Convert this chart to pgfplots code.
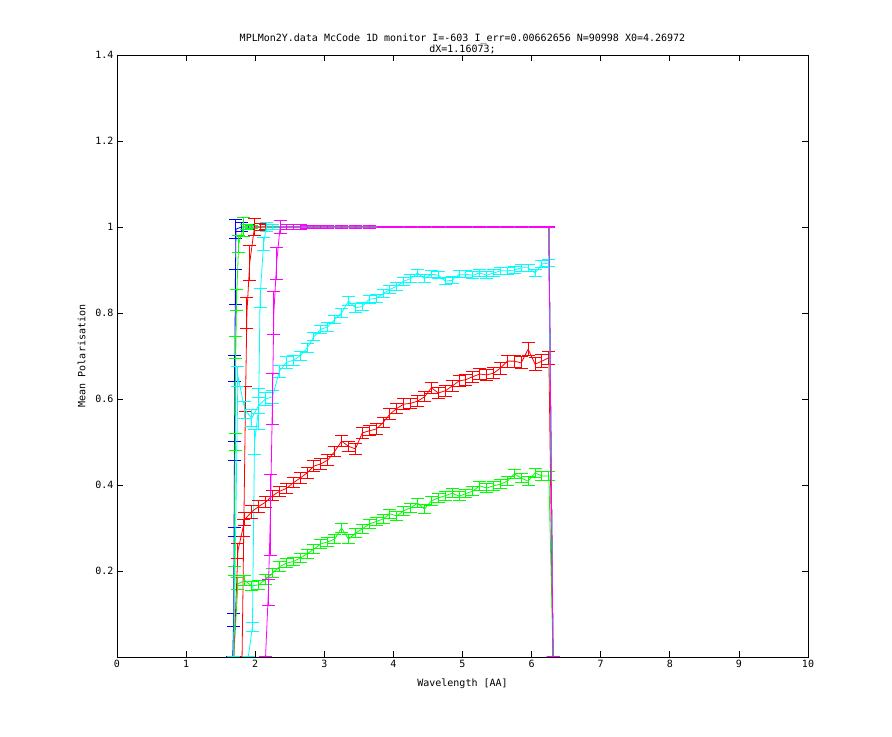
\documentclass[border=0pt]{standalone}
\usepackage{pgfplots}
\pgfplotsset{compat=1.18}
\usepackage{pgfplotstable}
\usepackage{fontspec}
\setmainfont{DejaVu Sans Mono}
\definecolor{gred}{RGB}{255,0,0}
\definecolor{ggreen}{RGB}{0,255,0}
\definecolor{gblue}{RGB}{0,0,255}
\definecolor{gmag}{RGB}{255,0,255}
\definecolor{gcyan}{RGB}{0,255,255}

% steep series
\pgfplotstableread{
x y e
1.675 0 0
1.688 0.086 0.014
1.694 0.29 0.01
1.700 0.478 0.022
1.706 0.67 0.03
1.712 0.86 0.04
1.722 0.995 0.022
1.80 1.0 0.01
1.90 1.0 0.006
6.25 1.0 0.002
6.31 0 0
}\bluesteep
\pgfplotstableread{
x y e
1.69 0 0
1.70 0.2 0.01
1.71 0.5 0.02
1.72 0.72 0.025
1.73 0.83 0.025
1.76 0.96 0.02
1.83 1.0 0.022
1.88 1.0 0.005
1.95 1.0 0.004
6.25 1.0 0.002
6.31 0 0
}\greensteep
\pgfplotstableread{
x y e
1.81 0 0
1.835 0.3 0.02
1.86 0.6 0.03
1.88 0.8 0.035
1.92 0.916 0.04
1.99 1.0 0.019
2.07 1.0 0.008
2.15 1.0 0.005
6.25 1.0 0.002
6.31 0 0
}\redsteep
\pgfplotstableread{
x y e
1.90 0 0
1.96 0.07 0.01
1.99 0.5 0.03
2.05 0.577 0.047
2.07 0.834 0.022
2.12 0.96 0.015
2.16 1.0 0.01
2.25 1.0 0.006
6.25 1.0 0.002
6.31 0 0
}\cyansteep
\pgfplotstableread{
x y e
2.15 0 0
2.19 0.15 0.03
2.22 0.33 0.095
2.25 0.6 0.06
2.27 0.8 0.05
2.31 0.916 0.037
2.36 1.0 0.016
2.45 1.0 0.006
2.55 1.0 0.005
2.65 1.0 0.005
2.75 1.0 0.004
2.85 1.0 0.004
2.95 1.0 0.004
3.05 1.0 0.003
3.25 1.0 0.003
3.45 1.0 0.003
3.65 1.0 0.003
3.85 1.0 0.002
4.05 1.0 0.002
4.25 1.0 0.002
4.45 1.0 0.002
4.65 1.0 0.002
4.85 1.0 0.002
5.05 1.0 0.002
5.25 1.0 0.002
5.45 1.0 0.002
5.65 1.0 0.002
5.85 1.0 0.002
6.05 1.0 0.002
6.25 1.0 0.002
6.31 0 0
}\magsteep

% gradual series
\pgfplotstableread{
x y e
1.69 0 0
1.75 0.653 0.023
1.85 0.575 0.02
1.95 0.555 0.02
2.05 0.585 0.018
2.15 0.600 0.015
2.25 0.605 0.015
2.35 0.665 0.014
2.45 0.685 0.013
2.55 0.690 0.012
2.65 0.700 0.011
2.75 0.718 0.011
2.85 0.745 0.01
2.95 0.762 0.01
3.05 0.768 0.01
3.15 0.785 0.01
3.25 0.800 0.01
3.35 0.828 0.01
3.45 0.812 0.01
3.55 0.815 0.009
3.65 0.832 0.009
3.75 0.834 0.009
3.85 0.845 0.009
3.95 0.855 0.009
4.05 0.862 0.009
4.15 0.874 0.009
4.25 0.880 0.009
4.35 0.893 0.009
4.45 0.880 0.009
4.55 0.890 0.008
4.65 0.888 0.008
4.75 0.874 0.008
4.85 0.876 0.008
4.95 0.890 0.008
5.05 0.890 0.008
5.15 0.888 0.008
5.25 0.893 0.008
5.35 0.888 0.008
5.45 0.893 0.008
5.55 0.898 0.008
5.65 0.898 0.008
5.75 0.900 0.008
5.85 0.905 0.008
5.95 0.905 0.008
6.05 0.893 0.008
6.15 0.914 0.008
6.25 0.916 0.008
6.31 0 0
}\cyangrad
\pgfplotstableread{
x y e
1.69 0 0
1.75 0.247 0.018
1.85 0.320 0.015
1.95 0.338 0.015
2.05 0.350 0.013
2.15 0.360 0.013
2.25 0.375 0.012
2.35 0.385 0.012
2.45 0.392 0.012
2.55 0.405 0.012
2.65 0.416 0.012
2.75 0.428 0.012
2.85 0.444 0.012
2.95 0.449 0.012
3.05 0.458 0.012
3.15 0.478 0.012
3.25 0.502 0.012
3.35 0.490 0.012
3.45 0.484 0.012
3.55 0.521 0.012
3.65 0.526 0.012
3.75 0.530 0.012
3.85 0.545 0.012
3.95 0.565 0.012
4.05 0.578 0.012
4.15 0.588 0.012
4.25 0.590 0.012
4.35 0.595 0.012
4.45 0.605 0.012
4.55 0.626 0.013
4.65 0.614 0.013
4.75 0.619 0.013
4.85 0.630 0.013
4.95 0.642 0.013
5.05 0.645 0.013
5.15 0.652 0.013
5.25 0.658 0.013
5.35 0.656 0.013
5.45 0.660 0.013
5.55 0.672 0.014
5.65 0.688 0.014
5.75 0.688 0.014
5.85 0.684 0.014
5.95 0.716 0.016
6.05 0.681 0.015
6.15 0.688 0.015
6.25 0.696 0.015
6.31 0 0
}\redgrad
\pgfplotstableread{
x y e
1.69 0 0
1.75 0.170 0.014
1.85 0.178 0.012
1.95 0.165 0.011
2.05 0.168 0.011
2.15 0.180 0.011
2.25 0.195 0.011
2.35 0.210 0.011
2.45 0.218 0.01
2.55 0.222 0.01
2.65 0.230 0.01
2.75 0.240 0.01
2.85 0.251 0.01
2.95 0.263 0.01
3.05 0.268 0.01
3.15 0.274 0.01
3.25 0.300 0.011
3.35 0.274 0.01
3.45 0.288 0.01
3.55 0.298 0.01
3.65 0.309 0.01
3.75 0.315 0.01
3.85 0.321 0.01
3.95 0.333 0.01
4.05 0.328 0.01
4.15 0.340 0.01
4.25 0.347 0.01
4.35 0.358 0.01
4.45 0.344 0.01
4.55 0.363 0.01
4.65 0.370 0.01
4.75 0.375 0.01
4.85 0.381 0.01
4.95 0.374 0.01
5.05 0.380 0.01
5.15 0.386 0.01
5.25 0.398 0.01
5.35 0.393 0.01
5.45 0.398 0.01
5.55 0.402 0.01
5.65 0.409 0.01
5.75 0.426 0.011
5.85 0.416 0.01
5.95 0.409 0.01
6.05 0.428 0.011
6.15 0.421 0.01
6.25 0.421 0.01
6.31 0 0
}\greengrad

\pgfplotsset{
  errline/.style={mark=none, line width=0.8pt,
    error bars/.cd, y dir=both, y explicit,
    error bar style={line width=1pt},
    error mark options={rotate=90, mark size=6.5pt, line width=1pt}},
}

\begin{document}
\begin{tikzpicture}
\begin{axis}[
  scale only axis, width=691pt, height=602pt,
  xmin=0, xmax=10, ymin=0, ymax=1.4,
  xtick={0,1,...,10},
  ytick={0.2,0.4,0.6,0.8,1.0,1.2,1.4},
  yticklabels={0.2,0.4,0.6,0.8,1,1.2,1.4},
  tick align=inside, major tick length=6pt,
  axis line style={line width=0.8pt},
  tick style={line width=0.8pt, black},
  /pgf/number format/assume math mode=true,
  ticklabel style={font=\fontsize{10}{11}\selectfont},
  label style={font=\fontsize{10}{11}\selectfont},
  xlabel={Wavelength [AA]},
  xlabel style={yshift=-4pt},
  ylabel={Mean Polarisation},
  ylabel style={yshift=3pt},
  title={MPLMon2Y.data McCode 1D monitor I=-603 I\textunderscore err=0.00662656 N=90998 X0=4.26972\\dX=1.16073;},
  title style={align=center, font=\fontsize{10}{11}\selectfont, yshift=-8pt},
]
\addplot[gblue, errline] table[x=x, y=y, y error=e] {\bluesteep};
\addplot[ggreen, errline] table[x=x, y=y, y error=e] {\greensteep};
\addplot[gred, errline] table[x=x, y=y, y error=e] {\redsteep};
\addplot[gcyan, errline] table[x=x, y=y, y error=e] {\cyansteep};
\addplot[ggreen, errline] table[x=x, y=y, y error=e] {\greengrad};
\addplot[gred, errline] table[x=x, y=y, y error=e] {\redgrad};
\addplot[gcyan, errline] table[x=x, y=y, y error=e] {\cyangrad};
\addplot[gmag, errline] table[x=x, y=y, y error=e] {\magsteep};
\end{axis}
\pgfresetboundingbox
\path[use as bounding box] ([xshift=-117pt,yshift=-80pt]current axis.south west) rectangle ([xshift=84pt,yshift=55pt]current axis.north east);
\end{tikzpicture}
\end{document}
